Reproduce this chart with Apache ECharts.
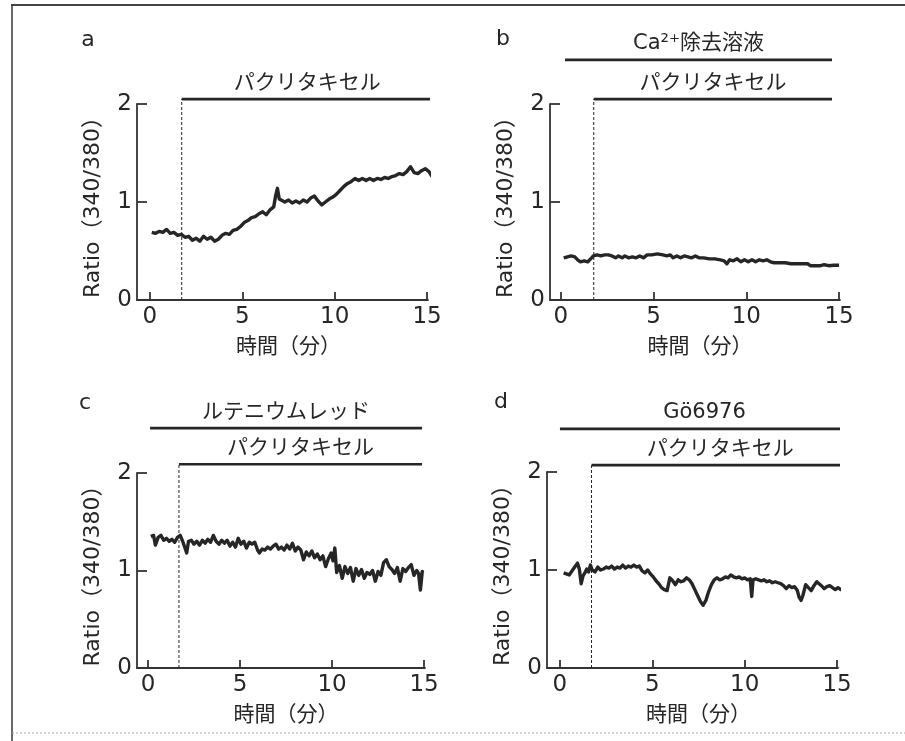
<!DOCTYPE html>
<html><head><meta charset="utf-8">
<script src="https://cdn.jsdelivr.net/npm/echarts@6/dist/echarts.min.js"></script>
<style>html,body{margin:0;padding:0;background:#fff}#c{width:905px;height:741px}</style>
</head><body><div id="c"></div>
<script>
// ---- data ----
const xTicks = [0, 5, 10, 15];
const yTicks = [0, 1, 2];
const xName = '時間（分）';
const yName = 'Ratio（340/380）';
const panelLetters = ['a', 'b', 'c', 'd'];
const ptxLabel = 'パクリタキセル';
const preLabels = [null, 'Ca²⁺除去溶液', 'ルテニウムレッド', 'Gö6976'];
// treatment bars: [start, end, level]
const ptxBars = [[1.72, 15.32, 2.05], [1.77, 14.62, 2.05], [1.68, 14.89, 2.09], [1.71, 15.65, 2.07]];
const preBars = [null, [0.22, 14.62, 2.45], [0.11, 14.89, 2.46], [0.0, 15.65, 2.44]];

const timeA = [0.1,0.3,0.5,0.7,0.9,1.1,1.3,1.5,1.7,1.9,2.1,2.3,2.5,2.7,2.9,3.1,3.3,3.5,3.7,3.9,4.1,4.3,4.5,4.7,4.9,5.1,5.3,5.5,5.7,5.9,6.1,6.3,6.5,6.7,6.8,6.9,7.0,7.1,7.3,7.5,7.7,7.9,8.1,8.3,8.5,8.7,8.9,9.1,9.3,9.5,9.7,9.9,10.1,10.3,10.5,10.7,10.9,11.1,11.3,11.5,11.7,11.9,12.1,12.3,12.5,12.7,12.9,13.1,13.3,13.5,13.7,13.9,14.1,14.3,14.5,14.7,14.9,15.1,15.3,15.5,15.6];
const ratioA = [0.69,0.68,0.70,0.69,0.72,0.68,0.69,0.66,0.67,0.64,0.65,0.61,0.63,0.60,0.65,0.62,0.64,0.60,0.62,0.66,0.68,0.67,0.71,0.72,0.75,0.79,0.81,0.84,0.85,0.88,0.90,0.87,0.92,0.95,1.06,1.14,1.03,1.04,1.00,1.02,0.99,1.01,0.99,1.02,1.00,1.04,1.06,1.01,0.97,1.00,1.03,1.05,1.08,1.12,1.16,1.19,1.21,1.24,1.22,1.24,1.22,1.24,1.22,1.24,1.23,1.25,1.24,1.26,1.27,1.29,1.28,1.31,1.36,1.30,1.29,1.32,1.34,1.31,1.25,1.31,1.30];

const timeB = [0.15,0.35,0.55,0.75,0.9,1.05,1.25,1.45,1.6,1.75,1.95,2.15,2.35,2.55,2.75,2.95,3.1,3.3,3.45,3.65,3.85,4.05,4.25,4.45,4.65,4.9,5.2,5.5,5.7,5.9,6.05,6.25,6.45,6.65,6.85,7.05,7.25,7.45,7.7,8.0,8.3,8.6,8.8,8.95,9.1,9.3,9.5,9.7,9.9,10.1,10.3,10.5,10.7,10.9,11.1,11.3,11.5,11.8,12.1,12.4,12.7,13.0,13.3,13.45,13.7,14.0,14.2,14.3,14.45,14.7,15.0];
const ratioB = [0.43,0.44,0.45,0.44,0.41,0.39,0.40,0.39,0.42,0.45,0.46,0.45,0.46,0.46,0.45,0.43,0.45,0.43,0.45,0.43,0.44,0.43,0.45,0.43,0.46,0.46,0.47,0.46,0.45,0.46,0.43,0.45,0.43,0.45,0.44,0.43,0.45,0.43,0.43,0.42,0.42,0.41,0.40,0.37,0.41,0.40,0.42,0.39,0.41,0.39,0.41,0.39,0.41,0.40,0.41,0.39,0.38,0.38,0.38,0.37,0.37,0.37,0.37,0.35,0.35,0.35,0.36,0.37,0.35,0.355,0.355];

const timeC = [0.15,0.3,0.4,0.55,0.7,0.85,1.0,1.15,1.3,1.45,1.6,1.75,1.9,2.0,2.1,2.2,2.35,2.5,2.65,2.8,2.95,3.1,3.25,3.4,3.55,3.7,3.85,4.0,4.15,4.3,4.45,4.6,4.75,4.9,5.05,5.2,5.35,5.5,5.65,5.8,5.95,6.05,6.2,6.35,6.5,6.65,6.8,6.95,7.1,7.25,7.4,7.55,7.7,7.85,8.0,8.15,8.3,8.45,8.6,8.75,8.9,9.05,9.2,9.35,9.5,9.65,9.8,9.95,10.05,10.15,10.25,10.4,10.55,10.7,10.85,11.0,11.15,11.3,11.45,11.6,11.75,11.9,12.05,12.2,12.35,12.5,12.65,12.8,12.95,13.1,13.25,13.4,13.55,13.7,13.85,14.0,14.15,14.3,14.45,14.6,14.7,14.8,14.9,14.95];
const ratioC = [1.35,1.36,1.26,1.34,1.36,1.31,1.33,1.30,1.32,1.29,1.34,1.36,1.29,1.31,1.18,1.30,1.31,1.27,1.30,1.26,1.31,1.28,1.32,1.29,1.36,1.30,1.27,1.31,1.28,1.31,1.25,1.29,1.24,1.33,1.27,1.30,1.23,1.29,1.27,1.29,1.21,1.18,1.22,1.21,1.24,1.22,1.25,1.27,1.22,1.24,1.21,1.26,1.22,1.28,1.20,1.24,1.21,1.11,1.19,1.15,1.20,1.13,1.17,1.11,1.15,1.04,1.12,1.18,1.10,1.23,0.98,1.05,0.92,1.04,0.97,1.03,0.89,1.02,0.95,1.01,0.92,0.98,0.96,1.00,0.89,0.99,0.95,1.08,1.11,1.04,1.01,0.97,1.03,0.89,1.02,0.99,1.03,1.06,0.95,1.00,0.97,0.80,0.99,0.98];

const timeD = [0.2,0.35,0.5,0.65,0.8,0.95,1.05,1.15,1.25,1.35,1.45,1.55,1.65,1.75,1.9,2.05,2.2,2.35,2.5,2.65,2.8,2.95,3.1,3.25,3.4,3.55,3.7,3.85,4.0,4.15,4.3,4.45,4.6,4.75,4.9,5.05,5.2,5.35,5.5,5.65,5.8,5.95,6.1,6.25,6.4,6.55,6.7,6.85,7.0,7.15,7.3,7.45,7.6,7.75,7.9,8.05,8.2,8.35,8.5,8.65,8.8,8.95,9.1,9.25,9.4,9.55,9.7,9.85,10.0,10.15,10.3,10.38,10.45,10.6,10.75,10.9,11.05,11.2,11.35,11.5,11.65,11.8,11.95,12.1,12.25,12.4,12.55,12.7,12.85,12.95,13.05,13.15,13.3,13.45,13.6,13.75,13.9,14.0,14.15,14.3,14.45,14.6,14.75,14.9,15.05,15.2,15.35,15.5,15.6];
const ratioD = [0.97,0.96,0.95,0.99,1.03,1.07,1.01,0.86,0.94,0.97,1.01,0.98,1.05,1.00,0.98,1.03,1.00,1.01,1.03,1.02,1.04,1.01,1.03,1.02,1.05,1.02,1.04,1.03,1.05,1.03,1.04,0.99,0.97,1.00,0.96,0.93,0.89,0.86,0.82,0.80,0.79,0.92,0.89,0.85,0.90,0.88,0.89,0.92,0.90,0.86,0.80,0.74,0.68,0.64,0.69,0.78,0.85,0.90,0.92,0.90,0.91,0.93,0.92,0.95,0.93,0.92,0.93,0.91,0.92,0.90,0.91,0.73,0.90,0.91,0.90,0.89,0.90,0.88,0.89,0.87,0.88,0.87,0.86,0.84,0.81,0.84,0.82,0.83,0.79,0.72,0.69,0.74,0.85,0.82,0.79,0.84,0.88,0.90,0.84,0.81,0.83,0.84,0.82,0.80,0.82,0.80,0.81,0.78,0.79];

const times = [timeA, timeB, timeC, timeD];
const ratios = [ratioA, ratioB, ratioC, ratioD];

// ---- layout (pixels) ----
const layout = [
  {left: 137, top: 104, width: 291, height: 196, xMin: -0.70, letter: [88, 40]},
  {left: 550, top: 104, width: 290, height: 196, xMin: -0.59, letter: [503, 39]},
  {left: 137, top: 473, width: 288, height: 195, xMin: -0.60, letter: [85, 403]},
  {left: 547, top: 472, width: 291, height: 196, xMin: -0.70, letter: [501, 402]}
];
const xMax = 15.05;
const FONT = "'DejaVu Sans', 'Noto Sans CJK JP', sans-serif";
const INK = '#262626';
const AX = '#333';

const grids = [], xAxes = [], yAxes = [], series = [], graphics = [];
layout.forEach((L, i) => {
  grids.push({left: L.left, top: L.top, width: L.width, height: L.height, containLabel: false});
  const scale = L.width / (xMax - L.xMin);
  const mid = (L.xMin + xMax) / 2;
  const shift = (7.5 - mid) * scale;
  xAxes.push({
    gridIndex: i, type: 'value', min: L.xMin, max: xMax,
    axisLine: {show: true, onZero: false, lineStyle: {color: AX, width: 1.8}},
    axisTick: {show: true, inside: true, length: 8, customValues: xTicks, lineStyle: {color: AX, width: 1.8}},
    axisLabel: {customValues: xTicks, fontSize: 23, margin: 6, color: INK, fontFamily: FONT},
    splitLine: {show: false},
    name: xName, nameLocation: 'middle', nameGap: 37,
    nameTextStyle: {fontSize: 21, color: INK, fontFamily: FONT, padding: [0, 0, 0, 2 * shift]}
  });
  yAxes.push({
    gridIndex: i, type: 'value', min: 0, max: 2, interval: 1,
    axisLine: {show: true, onZero: false, lineStyle: {color: AX, width: 1.8}},
    axisTick: {show: true, inside: true, length: 10, lineStyle: {color: AX, width: 1.8}},
    axisLabel: {fontSize: 23, margin: 5, color: INK, fontFamily: FONT},
    splitLine: {show: false},
    name: yName, nameLocation: 'middle', nameGap: 33,
    nameTextStyle: {fontSize: 22, color: INK, fontFamily: FONT}
  });
  const pts = times[i].map((t, k) => [t, ratios[i][k]]);
  series.push({
    type: 'line', xAxisIndex: i, yAxisIndex: i, data: pts, showSymbol: false, clip: false,
    lineStyle: {color: INK, width: 3.4, join: 'round'}, silent: true, z: 5
  });
  const bars = [[ptxBars[i], ptxLabel]];
  if (preBars[i]) bars.push([preBars[i], preLabels[i]]);
  bars.forEach(([b, txt]) => {
    series.push({
      type: 'line', xAxisIndex: i, yAxisIndex: i, showSymbol: false, clip: false, silent: true,
      data: [[b[0], b[2]], [b[1], b[2]]], lineStyle: {color: INK, width: 2.6}
    });
    series.push({
      type: 'scatter', xAxisIndex: i, yAxisIndex: i, clip: false, silent: true, symbolSize: 1,
      itemStyle: {color: 'rgba(0,0,0,0)', opacity: 1},
      data: [[(b[0] + b[1]) / 2, b[2]]],
      label: {show: true, position: 'top', distance: 5, formatter: txt, fontSize: 21, color: INK, fontFamily: FONT}
    });
  });
  const p = ptxBars[i];
  series.push({
    type: 'line', xAxisIndex: i, yAxisIndex: i, showSymbol: false, clip: false, silent: true,
    data: [[p[0], 0], [p[0], p[2]]], lineStyle: {color: INK, width: 1, type: [3, 2]}
  });
  graphics.push({type: 'text', x: L.letter[0], y: L.letter[1],
    style: {text: panelLetters[i], font: '22px ' + FONT, fill: INK, textAlign: 'center', textVerticalAlign: 'middle'}});
});
graphics.push({type: 'line', shape: {x1: 11, y1: 5, x2: 905, y2: 5}, style: {stroke: '#444', lineWidth: 2}});
graphics.push({type: 'line', shape: {x1: 12, y1: 5, x2: 12, y2: 741}, style: {stroke: '#444', lineWidth: 1.6}});
graphics.push({type: 'line', shape: {x1: 12, y1: 733, x2: 905, y2: 733}, style: {stroke: '#aaa', lineWidth: 1, lineDash: [2, 2]}});

const chart = echarts.init(document.getElementById('c'), null, {renderer: 'canvas'});
chart.setOption({
  animation: false, backgroundColor: '#fff',
  grid: grids, xAxis: xAxes, yAxis: yAxes, series: series, graphic: graphics
});
</script></body></html>
